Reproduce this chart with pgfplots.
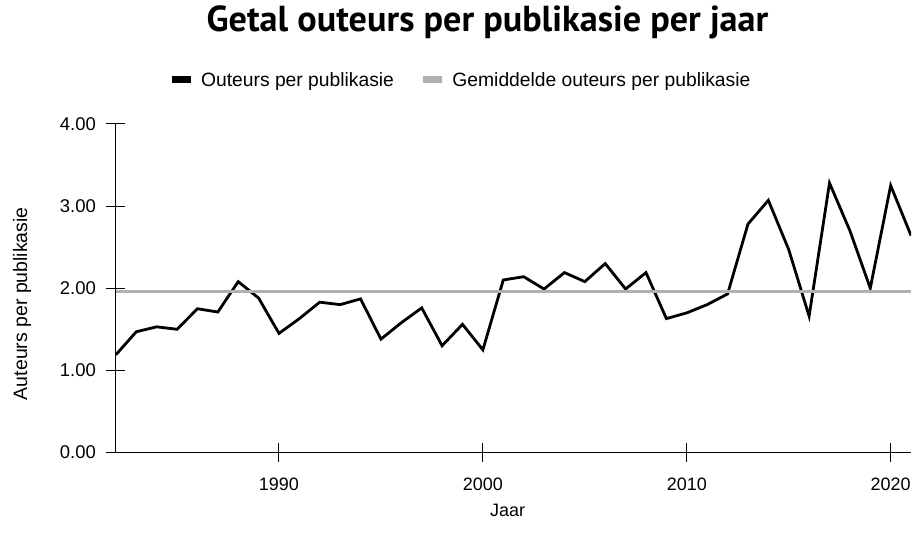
\documentclass[border=0pt]{standalone}
\usepackage{pgfplots}
\pgfplotsset{compat=1.18}
\usepackage{fontspec}
\setmainfont{Liberation Sans}
\newfontfamily\titlefont{PT Sans}
\definecolor{meangrey}{HTML}{B0B0B0}
\begin{document}
\begin{tikzpicture}
\begin{axis}[
  scale only axis,
  width=796pt, height=329pt,
  xmin=1982, xmax=2021,
  ymin=0, ymax=4,
  axis lines=left,
  axis line style={-, line width=1pt, black},
  tick align=center,
  major tick length=19pt,
  tick style={line width=1pt, black},
  xtick={1990,2000,2010,2020},
  ytick={0,1,2,3,4},
  /pgf/number format/assume math mode=true,
  yticklabel={\pgfmathprintnumber[fixed,fixed zerofill,precision=2]{\tick}},
  xticklabel style={/pgf/number format/1000 sep=, font=\fontsize{18}{20}\selectfont, yshift=-12pt},
  yticklabel style={font=\fontsize{18.5}{20}\selectfont, xshift=-7pt},
  title={\titlefont\bfseries\fontsize{36.2}{40}\selectfont Getal outeurs per publikasie per jaar},
  title style={at={(rel axis cs:0.4673,1.2614)}, anchor=base, yshift=0pt},
  xlabel={Jaar},
  xlabel style={at={(rel axis cs:0.4925,-0.176)}, anchor=center, font=\fontsize{18}{20}\selectfont},
  ylabel={Auteurs per publikasie},
  ylabel style={at={(rel axis cs:-0.118,0.4529)}, anchor=center, font=\fontsize{19.5}{21}\selectfont},
  legend style={at={(rel axis cs:0.4334,1.1337)}, anchor=center, draw=none, fill=none,
    legend columns=2, font=\fontsize{19.3}{21}\selectfont,
    /tikz/every even column/.append style={column sep=24pt}},
  legend image code/.code={\draw[line width=7pt, line cap=butt] (0pt,0pt) -- (19pt,0pt); \path[draw=none,fill=none] (27pt,0pt);},
]
\addplot[black, line width=2.8pt, line join=miter] coordinates {
(1982,1.19) (1983,1.47) (1984,1.53) (1985,1.50) (1986,1.75) (1987,1.71)
(1988,2.08) (1989,1.88) (1990,1.45) (1991,1.63) (1992,1.83) (1993,1.80)
(1994,1.87) (1995,1.38) (1996,1.58) (1997,1.76) (1998,1.30) (1999,1.56)
(2000,1.25) (2001,2.10) (2002,2.14) (2003,1.99) (2004,2.19) (2005,2.08)
(2006,2.30) (2007,1.99) (2008,2.19) (2009,1.63) (2010,1.70) (2011,1.80)
(2012,1.93) (2013,2.78) (2014,3.07) (2015,2.47) (2016,1.66) (2017,3.28)
(2018,2.70) (2019,2.00) (2020,3.25) (2021,2.64)
};
\addlegendentry{Outeurs per publikasie}
\addplot[meangrey, line width=2.8pt] coordinates {(1982,1.96) (2021,1.96)};
\addlegendentry{Gemiddelde outeurs per publikasie}
\end{axis}
\path[use as bounding box] (-116pt,-91pt) rectangle (798pt,453pt);
\end{tikzpicture}
\end{document}
